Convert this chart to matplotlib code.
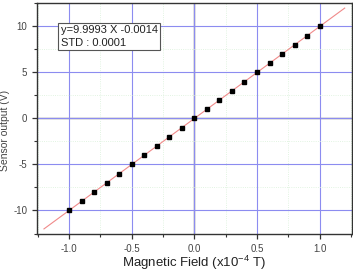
import matplotlib
matplotlib.use('Agg')
import matplotlib.pyplot as plt
import numpy as np
from matplotlib.ticker import MultipleLocator

plt.rcParams['font.family'] = ['Liberation Sans', 'DejaVu Sans']
plt.rcParams['mathtext.fontset'] = 'custom'
plt.rcParams['mathtext.rm'] = 'Liberation Sans'

# Data
field = [-1.0, -0.9, -0.8, -0.7, -0.6, -0.5, -0.4, -0.3, -0.2, -0.1, 0.0,
         0.1, 0.2, 0.3, 0.4, 0.5, 0.6, 0.7, 0.8, 0.9, 1.0]
output = [-10.0, -9.0, -8.0, -7.0, -6.0, -5.0, -4.0, -3.0, -2.0, -1.0, 0.0,
          1.0, 2.0, 3.0, 4.0, 5.0, 6.0, 7.0, 8.0, 9.0, 10.0]
fit_slope = 9.9993
fit_intercept = -0.0014
fit_range = [-1.2, 1.2]

fig = plt.figure(figsize=(3.53, 2.73), dpi=100)
ax = fig.add_axes([0.105, 0.143, 0.891, 0.846])

# Grid: minor faint green, major blue
ax.xaxis.set_major_locator(MultipleLocator(0.5))
ax.xaxis.set_minor_locator(MultipleLocator(0.25))
ax.yaxis.set_major_locator(MultipleLocator(5))
ax.yaxis.set_minor_locator(MultipleLocator(2.5))
ax.grid(which='minor', color='#d8f0d8', linewidth=0.6, linestyle=':', zorder=0)
ax.grid(which='major', color='#8c8cf0', linewidth=0.8, zorder=0)
ax.axhline(0, color='#222222', linewidth=0.9, zorder=1)
ax.axvline(0, color='#222222', linewidth=0.9, zorder=1)

# Fit line and data points
xf = np.array(fit_range)
ax.plot(xf, fit_slope * xf + fit_intercept, color='#f08a8a', linewidth=0.8, zorder=2)
ax.plot(field, output, 's', color='black', markersize=3.2, zorder=3)

ax.set_xlim(-1.255, 1.255)
ax.set_ylim(-12.55, 12.55)

ax.set_xticks([-1.0, -0.5, 0.0, 0.5, 1.0])
ax.set_xticklabels(['-1.0', '-0.5', '0.0', '0.5', '1.0'])
ax.set_yticks([-10, -5, 0, 5, 10])
ax.set_yticklabels(['-10', '-5', '0', '5', '10'])
ax.tick_params(which='major', direction='out', length=3.5, width=0.9, labelsize=7, colors='#333333', labelcolor='#444444')
ax.tick_params(which='minor', direction='out', length=2, width=0.8, colors='#333333')

for s in ax.spines.values():
    s.set_color('#333333')
    s.set_linewidth(1.0)

ax.set_xlabel('Magnetic Field (x10$^{-4}$ T)', fontsize=9.5, color='#222222')
ax.xaxis.set_label_coords(0.5, -0.085, transform=ax.transAxes)
ax.set_ylabel('Sensor output (V)', fontsize=7.5, color='#444444')
ax.yaxis.set_label_coords(-0.085, 0.45, transform=ax.transAxes)

ax.text(0.075, 0.905, 'y=9.9993 X -0.0014\nSTD : 0.0001', transform=ax.transAxes,
        fontsize=8, color='#222222', va='top', ha='left', linespacing=1.35,
        bbox=dict(boxstyle='square,pad=0.2', fc='white', ec='#555555', lw=0.8), zorder=4)

plt.savefig('out.png', dpi=100)
